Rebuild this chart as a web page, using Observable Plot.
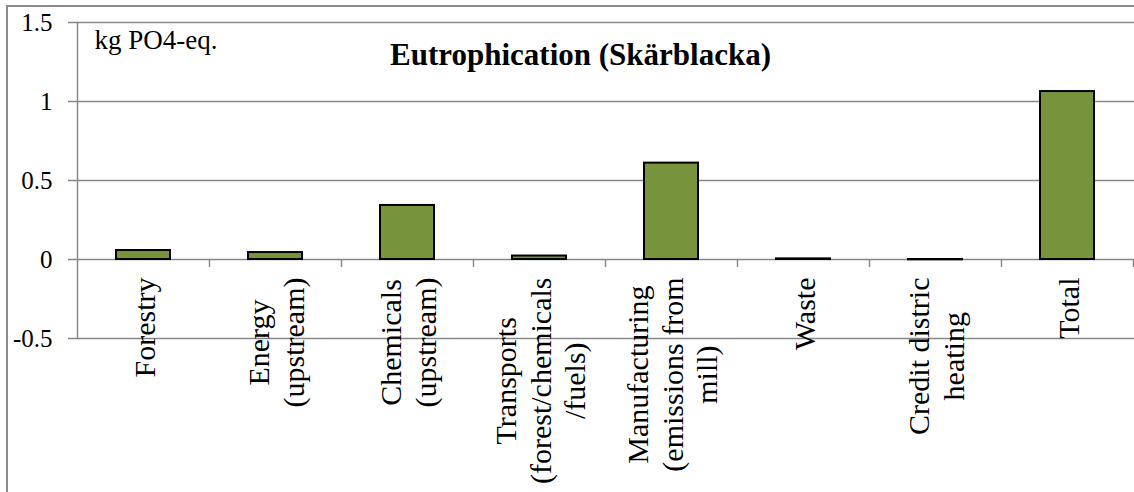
<!DOCTYPE html>
<html><head><meta charset="utf-8">
<script src="https://cdn.jsdelivr.net/npm/d3@7"></script>
<script src="https://cdn.jsdelivr.net/npm/@observablehq/plot@0.6"></script>
<style>
html,body{margin:0;padding:0;background:#fff;overflow:hidden}
#wrap{position:relative;width:1134px;height:492px;overflow:hidden}
#border{position:absolute;left:6px;top:5px;width:1300px;height:700px;border-left:2px solid #8c8c8c;border-top:2px solid #8c8c8c;pointer-events:none}
#chart svg text{font-family:"Liberation Serif", serif}
</style></head><body>
<div id="wrap"><div id="chart"></div><div id="border"></div></div>
<script>
// ---- data ----
const categories = ["Forestry", "Energy (upstream)", "Chemicals (upstream)", "Transports (forest/chemicals/fuels)", "Manufacturing (emissions from mill)", "Waste", "Credit distric heating", "Total"];
const categoryLabels = ["Forestry", "Energy\n(upstream)", "Chemicals\n(upstream)", "Transports\n(forest/chemicals\n/fuels)", "Manufacturing\n(emissions from\nmill)", "Waste", "Credit distric\nheating", "Total"];
const values = [0.057, 0.044, 0.342, 0.022, 0.61, 0.004, -0.002, 1.063];
const yTicks = [-0.5, 0, 0.5, 1, 1.5];
const yTickLabels = ["-0.5", "0", "0.5", "1", "1.5"];
const title = "Eutrophication (Skärblacka)";
const unitLabel = "kg PO4-eq.";

// ---- layout ----
const W = 1134, H = 492;
const mL = 77, mR = 1, mT = 22, mB = 154;
const font = "Liberation Serif";
const fontFamily = `"${font}", serif`;
const xFont = 30, yFont = 25;
const grid = "#888888";
const step = (W - mL - mR) / categories.length;

const table = categories.map((c, i) => ({cat: c, value: values[i]}));

const ctx = document.createElement("canvas").getContext("2d");
ctx.font = `${xFont}px "${font}"`;
const maxW = s => Math.max(...s.split("\n").map(l => ctx.measureText(l).width));

const labelMarks = categories.map((c, i) =>
  Plot.text([c], {
    x: d => d, y: 0, text: () => categoryLabels[i],
    rotate: -90, textAnchor: "middle", lineAnchor: "middle", lineHeight: 1.15,
    fontSize: xFont, fontFamily, fill: "#000",
    dy: 18 + maxW(categoryLabels[i]) / 2
  })
);

const chart = Plot.plot({
  width: W, height: H,
  marginLeft: mL, marginRight: mR, marginTop: mT, marginBottom: mB,
  style: {fontFamily, background: "#fff", overflow: "visible"},
  x: {type: "band", domain: categories, paddingInner: 0.59, paddingOuter: 0.295, axis: null},
  y: {domain: [-0.5, 1.5], axis: null},
  marks: [
    Plot.ruleY(yTicks, {stroke: grid, strokeWidth: 1.5, insetRight: -1}),
    Plot.frame({anchor: "left", stroke: grid, strokeWidth: 1.5}),
    Plot.axisY({ticks: yTicks, label: null, tickSize: 9, tickPadding: 16, stroke: grid, strokeWidth: 1.5, strokeOpacity: 1,
      fill: "#000", fontSize: yFont, fontFamily, tickFormat: d => yTickLabels[yTicks.indexOf(d)]}),
    Plot.ruleX(categories, {x: d => d, y1: 0, y2: 0, insetBottom: -8, dx: step / 2, stroke: grid, strokeWidth: 1.5}),
    Plot.barY(table, {x: "cat", y: "value", fill: "#77933c", stroke: "#000", strokeWidth: 2}),
    ...labelMarks,
    Plot.text([title], {frameAnchor: "top-left", dx: 503, dy: 33, text: d => d, textAnchor: "middle",
      lineAnchor: "middle", fontSize: 31, fontWeight: "bold", fontFamily, fill: "#000"}),
    Plot.text([unitLabel], {frameAnchor: "top-left", dx: 17, dy: 18, text: d => d, textAnchor: "start",
      lineAnchor: "middle", fontSize: 27, fontFamily, fill: "#000"})
  ]
});
document.getElementById("chart").appendChild(chart);
</script>
</body></html>
